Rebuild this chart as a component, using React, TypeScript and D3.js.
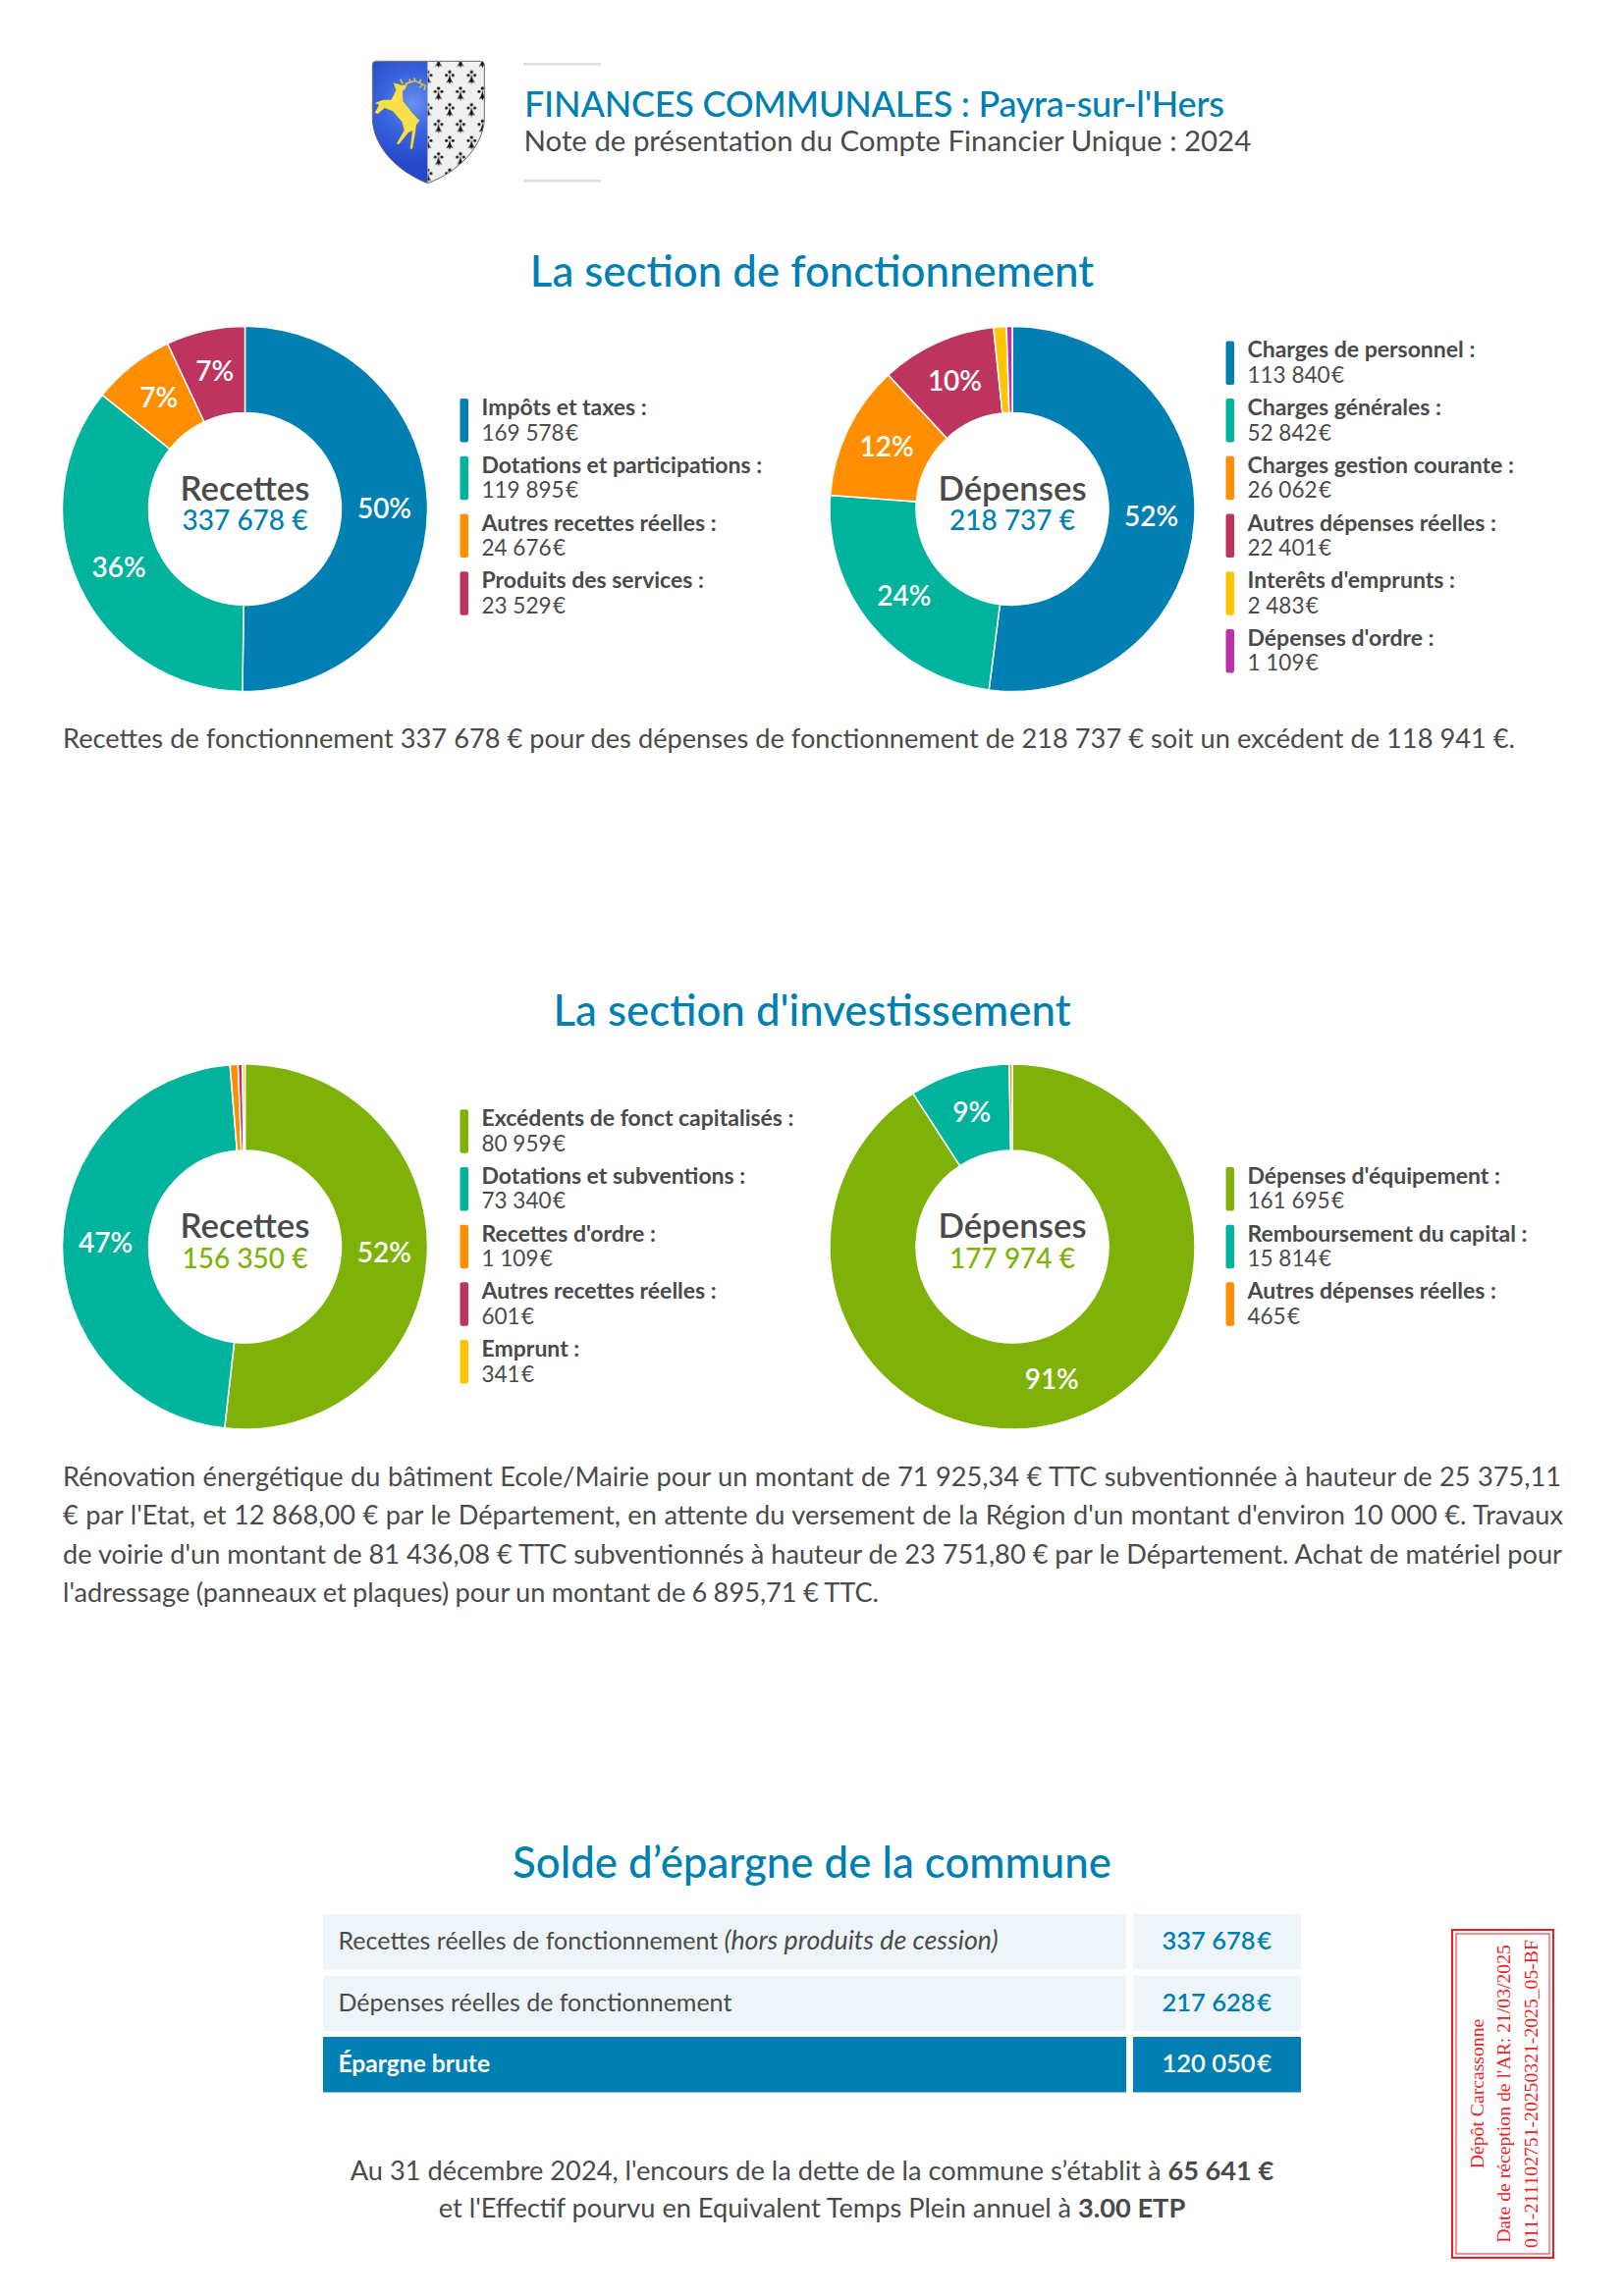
import * as d3 from "d3";
import { useEffect, useRef } from "react";

type Slice = { label: string; value: number; color: string };

const BLUE = "#007fb3";
const TEAL = "#00b39c";
const ORANGE = "#ff8f00";
const CRIMSON = "#bd345e";
const YELLOW = "#ffc400";
const MAGENTA = "#be31a8";
const GREEN = "#7fb209";
const TEXT = "#4a4a4a";
const FONT = "Lato, Carlito, sans-serif";

const fonctRecettesLabels = ["Impôts et taxes :", "Dotations et participations :", "Autres recettes réelles :", "Produits des services :"];
const fonctRecettesValues = [169578, 119895, 24676, 23529];
const fonctRecettesColors = [BLUE, TEAL, ORANGE, CRIMSON];

const fonctDepensesLabels = ["Charges de personnel :", "Charges générales :", "Charges gestion courante :", "Autres dépenses réelles :", "Interêts d'emprunts :", "Dépenses d'ordre :"];
const fonctDepensesValues = [113840, 52842, 26062, 22401, 2483, 1109];
const fonctDepensesColors = [BLUE, TEAL, ORANGE, CRIMSON, YELLOW, MAGENTA];

const investRecettesLabels = ["Excédents de fonct capitalisés :", "Dotations et subventions :", "Recettes d'ordre :", "Autres recettes réelles :", "Emprunt :"];
const investRecettesValues = [80959, 73340, 1109, 601, 341];
const investRecettesColors = [GREEN, TEAL, ORANGE, CRIMSON, YELLOW];

const investDepensesLabels = ["Dépenses d'équipement :", "Remboursement du capital :", "Autres dépenses réelles :"];
const investDepensesValues = [161695, 15814, 465];
const investDepensesColors = [GREEN, TEAL, ORANGE];

const fonctParagraph = ["Recettes de fonctionnement 337 678 € pour des dépenses de fonctionnement de 218 737 € soit un excédent de 118 941 €."];
const investParagraph = [
  "Rénovation énergétique du bâtiment Ecole/Mairie pour un montant de 71 925,34 € TTC subventionnée à hauteur de 25 375,11",
  "€ par l'Etat, et 12 868,00 € par le Département, en attente du versement de la Région d'un montant d'environ 10 000 €. Travaux",
  "de voirie d'un montant de 81 436,08 € TTC subventionnés à hauteur de 23 751,80 € par le Département. Achat de matériel pour",
  "l'adressage (panneaux et plaques) pour un montant de 6 895,71 € TTC.",
];

const soldeLabels = ["Recettes réelles de fonctionnement", "Dépenses réelles de fonctionnement", "Épargne brute"];
const soldeValues = [337678, 217628, 120050];
const stampLines = ["Dépôt Carcassonne", "Date de réception de l'AR: 21/03/2025", "011-211102751-20250321-2025_05-BF"];

const fmt = d3.formatLocale({ decimal: ",", thousands: " ", grouping: [3], currency: ["", ""] }).format(",");

const toSlices = (labels: string[], values: number[], colors: string[]): Slice[] =>
  labels.map((label, i) => ({ label, value: values[i], color: colors[i] }));

function drawDonut(
  root: d3.Selection<SVGGElement, unknown, null, undefined>,
  cx: number,
  cy: number,
  title: string,
  totalColor: string,
  slices: Slice[],
  legendX: number,
  legendMid: number
) {
  const total = d3.sum(slices, (d) => d.value);
  const g = root.append("g").attr("transform", `translate(${cx},${cy})`);
  const pie = d3.pie<Slice>().sort(null).value((d) => d.value);
  const arc = d3.arc<d3.PieArcDatum<Slice>>().innerRadius(98).outerRadius(186);

  g.selectAll("path")
    .data(pie(slices))
    .join("path")
    .attr("d", arc)
    .attr("fill", (d) => d.data.color)
    .attr("stroke", "#fff")
    .attr("stroke-width", 1.5);

  g.selectAll("text.pct")
    .data(pie(slices).filter((d) => d.data.value / total >= 0.05))
    .join("text")
    .attr("class", "pct")
    .attr("x", (d) => arc.centroid(d)[0])
    .attr("y", (d) => arc.centroid(d)[1])
    .attr("dy", "0.3em")
    .attr("text-anchor", "middle")
    .attr("fill", "#fff")
    .attr("font-size", 28)
    .attr("font-weight", 600)
    .text((d) => `${Math.round((d.data.value / total) * 100)}%`);

  g.append("text").attr("text-anchor", "middle").attr("y", -9).attr("fill", TEXT)
    .attr("font-size", 34.8).attr("font-weight", 600).text(title);
  g.append("text").attr("text-anchor", "middle").attr("y", 21.5).attr("fill", totalColor)
    .attr("font-size", 28).attr("font-weight", 500).text(`${fmt(total)} €`);

  const pitch = 58.7;
  const top = legendMid - (pitch * slices.length) / 2 + 7.5;
  const legendY = d3.scaleLinear().domain([0, 1]).range([top, top + pitch]);
  const rows = root.append("g").selectAll("g").data(slices).join("g")
    .attr("transform", (_, i) => `translate(${legendX},${legendY(i)})`);
  rows.append("rect").attr("width", 8.5).attr("height", 44.5).attr("rx", 2).attr("fill", (d) => d.color);
  rows.append("text").attr("x", 22).attr("y", 17).attr("fill", TEXT).attr("font-size", 23)
    .attr("font-weight", 700).text((d) => d.label);
  rows.append("text").attr("x", 22).attr("y", 42.5).attr("fill", TEXT).attr("font-size", 22.5)
    .text((d) => `${fmt(d.value)}\u200a€`);
}

function drawParagraph(
  root: d3.Selection<SVGGElement, unknown, null, undefined>,
  lines: string[],
  y0: number,
  widths: number[]
) {
  root.append("g").selectAll("text").data(lines).join("text")
    .attr("x", 64)
    .attr("y", (_, i) => y0 + i * 39.4)
    .attr("fill", TEXT)
    .attr("font-size", 27.2)
    .text((d) => d)
    .each(function (d, i) {
      const spaces = d.split(" ").length - 1;
      const len = (this as SVGTextElement).getComputedTextLength();
      d3.select(this).attr("word-spacing", (widths[i] - len) / spaces);
    });
}

function drawTable(root: d3.Selection<SVGGElement, unknown, null, undefined>) {
  const y = d3.scaleBand<number>().domain(d3.range(soldeLabels.length)).range([1950, 2131.5]).paddingInner(0.096).paddingOuter(0);
  const rows = root.append("g").selectAll("g").data(soldeLabels).join("g")
    .attr("transform", (_, i) => `translate(0,${y(i)})`);
  const last = soldeLabels.length - 1;
  const bg = (i: number) => (i === last ? BLUE : "#eef5f8");
  const h = y.bandwidth();
  rows.append("rect").attr("x", 329).attr("width", 818).attr("height", h).attr("fill", (_, i) => bg(i));
  rows.append("rect").attr("x", 1154).attr("width", 171).attr("height", h).attr("fill", (_, i) => bg(i));
  const labels = rows.append("text").attr("x", 344.5).attr("y", 36)
    .attr("font-size", (_, i) => (i === last ? 24.6 : 25))
    .attr("font-weight", (_, i) => (i === last ? 700 : 400))
    .attr("fill", (_, i) => (i === last ? "#fff" : TEXT))
    .text((d) => d);
  labels.filter((_, i) => i === 0).append("tspan").attr("font-style", "italic").attr("font-size", 26.8).text(" (hors produits de cession)");
  rows.append("text").attr("x", 1295).attr("y", 36).attr("text-anchor", "end").attr("font-size", 25.5)
    .attr("font-weight", 600)
    .attr("fill", (_, i) => (i === last ? "#fff" : BLUE))
    .text((_, i) => `${fmt(soldeValues[i])}\u200a€`);
}

function drawStamp(root: d3.Selection<SVGGElement, unknown, null, undefined>) {
  const red = "#ee1c25";
  root.append("rect").attr("x", 1479).attr("y", 1966).attr("width", 103).attr("height", 334).attr("fill", "none").attr("stroke", red).attr("stroke-width", 2);
  root.append("rect").attr("x", 1483).attr("y", 1970).attr("width", 95).attr("height", 326).attr("fill", "none").attr("stroke", red).attr("stroke-width", 1);
  root.append("g").selectAll("text").data(stampLines).join("text")
    .attr("transform", (_, i) => `translate(${1510.5 + i * 27.5},2133) rotate(-90)`)
    .attr("text-anchor", "middle")
    .attr("fill", red)
    .attr("font-family", "'Liberation Serif', serif")
    .attr("font-size", 19.7)
    .text((d) => d);
}

const Shield = () => (
  <g transform="translate(370,50) scale(0.3333)">
    <defs>
      <clipPath id="shield">
        <path d="M28,48 Q28,37 40,37 L358,37 Q370,37 370,48 L370,215 C365,300 290,375 197,410 C105,375 32,300 28,215 Z" />
      </clipPath>
      <radialGradient id="azure" gradientUnits="userSpaceOnUse" cx="150" cy="165" r="190">
        <stop offset="0" stopColor="#6a90f0" />
        <stop offset="0.45" stopColor="#3b66e0" />
        <stop offset="1" stopColor="#2448c8" />
      </radialGradient>
      <g id="ermine" fill="#111">
        <circle cx="0" cy="-15" r="5" />
        <circle cx="-10" cy="-5" r="4.5" />
        <circle cx="10" cy="-5" r="4.5" />
        <path d="M0,-10 C2,6 6,12 11,19 L3,15 L0,23 L-3,15 L-11,19 C-6,12 -2,6 0,-10 Z" />
      </g>
      <pattern id="ermines" patternUnits="userSpaceOnUse" x="197" y="35" width="67" height="100">
        <use href="#ermine" x="33" y="0" />
        <use href="#ermine" x="33" y="100" />
        <use href="#ermine" x="0" y="50" />
        <use href="#ermine" x="67" y="50" />
      </pattern>
    </defs>
    <g clipPath="url(#shield)">
      <rect x="28" y="37" width="169" height="373" fill="url(#azure)" />
      <rect x="197" y="37" width="173" height="373" fill="#f0f0f0" />
      <rect x="197" y="37" width="173" height="373" fill="url(#ermines)" />
    </g>
    <path d="M28,48 Q28,37 40,37 L358,37 Q370,37 370,48 L370,215 C365,300 290,375 197,410 C105,375 32,300 28,215 Z" fill="none" stroke="#666" strokeWidth="3" />
    <path
      d="M92,103 L118,110 L135,108 L128,122 L120,128 L122,160 L150,195 L172,218 L162,232 L158,262 L150,305 L143,305 L150,250 L138,255 L108,292 L102,288 L125,248 L118,222 L90,190 L65,180 L45,198 L35,195 L48,170 L35,165 L60,155 L85,155 L100,125 Z"
      fill="#f7e04a"
      stroke="#9a8a20"
      strokeWidth="1"
    />
    <path d="M120,106 L113,92 M128,106 L158,97 L190,112 L186,126 M145,102 L140,92 M158,97 L156,88 M172,103 L176,92 M182,108 L172,118" fill="none" stroke="#d9c43a" strokeWidth="5" />
  </g>
);

export default function App() {
  const ref = useRef<SVGGElement>(null);

  useEffect(() => {
    const root = d3.select(ref.current as SVGGElement);
    root.selectAll("*").remove();

    root.append("rect").attr("x", 533).attr("y", 64).attr("width", 79).attr("height", 2.5).attr("fill", "#dcdce2");
    root.append("rect").attr("x", 533).attr("y", 183).attr("width", 79).attr("height", 2.5).attr("fill", "#dcdce2");
    root.append("text").attr("x", 534).attr("y", 119).attr("fill", BLUE).attr("font-size", 36).attr("font-weight", 500)
      .attr("letter-spacing", -0.25).text("FINANCES COMMUNALES : Payra-sur-l'Hers");
    root.append("text").attr("x", 533.5).attr("y", 154).attr("fill", TEXT).attr("font-size", 29.4)
      .text("Note de présentation du Compte Financier Unique : 2024");

    const heading = (text: string, y: number) =>
      root.append("text").attr("x", 827).attr("y", y).attr("text-anchor", "middle").attr("fill", BLUE)
        .attr("font-size", 43.8).attr("font-weight", 500).text(text);
    heading("La section de fonctionnement", 292);
    heading("La section d'investissement", 1045);
    heading("Solde d’épargne de la commune", 1913);

    drawDonut(root, 249.5, 518.5, "Recettes", BLUE, toSlices(fonctRecettesLabels, fonctRecettesValues, fonctRecettesColors), 468.5, 516);
    drawDonut(root, 1031, 518.5, "Dépenses", BLUE, toSlices(fonctDepensesLabels, fonctDepensesValues, fonctDepensesColors), 1248.5, 516);
    drawDonut(root, 249.5, 1270, "Recettes", GREEN, toSlices(investRecettesLabels, investRecettesValues, investRecettesColors), 468.5, 1269.5);
    drawDonut(root, 1031, 1270, "Dépenses", GREEN, toSlices(investDepensesLabels, investDepensesValues, investDepensesColors), 1248.5, 1269.5);

    drawParagraph(root, fonctParagraph, 762, [1479]);
    drawParagraph(root, investParagraph, 1514, [1526, 1528, 1527, 831]);
    drawTable(root);

    const note = root.append("g").attr("text-anchor", "middle").attr("fill", TEXT).attr("font-size", 27.2);
    const l1 = note.append("text").attr("x", 827).attr("y", 2221).text("Au 31 décembre 2024, l'encours de la dette de la commune s’établit à ");
    l1.append("tspan").attr("font-weight", 700).text("65 641 €");
    const l2 = note.append("text").attr("x", 827).attr("y", 2259).text("et l'Effectif pourvu en Equivalent Temps Plein annuel à ");
    l2.append("tspan").attr("font-weight", 700).text("3.00 ETP");

    drawStamp(root);
  }, []);

  return (
    <svg
      width={1654}
      height={2339}
      style={{ position: "absolute", left: 0, top: 0, display: "block", background: "#fff", fontFamily: FONT }}
    >
      <Shield />
      <g ref={ref} />
    </svg>
  );
}
